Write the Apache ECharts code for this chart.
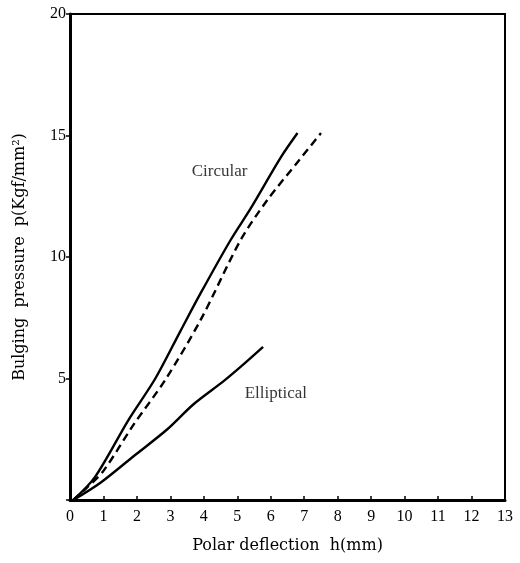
<!DOCTYPE html>
<html>
<head>
<meta charset="utf-8">
<script src="https://cdn.jsdelivr.net/npm/echarts@6/dist/echarts.min.js"></script>
<style>
  html, body { margin: 0; padding: 0; background: #fff; }
  #chart { width: 520px; height: 563px; }
</style>
</head>
<body>
<div id="chart"></div>
<script>
// data: [h (mm), p (Kgf/mm2)]
var circularSolid = [[0.1, 0], [0.75, 0.95], [1.75, 3.3], [2.55, 5.0], [3.3, 6.95], [3.9, 8.5],
    [4.8, 10.7], [5.4, 12.0], [6.3, 14.1], [6.8, 15.1]];
var circularDashed = [[0.1, 0], [0.5, 0.5], [1.0, 1.2], [1.9, 3.1], [2.85, 4.95], [3.9, 7.4],
    [5.1, 10.7], [5.9, 12.35], [6.8, 13.9], [7.5, 15.1]];
var elliptical = [[0.1, 0], [0.9, 0.7], [1.9, 1.8], [2.9, 2.9], [3.7, 3.95], [4.6, 4.9],
    [5.2, 5.6], [5.77, 6.3]];
var noteNames = ['Circular', 'Elliptical'];
var notePos = [[4.47, 13.5], [6.15, 4.4]];

var xMax = 13;
var yMax = 20;

var serif = '"Liberation Serif", serif';
var wideSerif = '"DejaVu Serif", serif';

var chart = echarts.init(document.getElementById('chart'));

var lineSeries = function (data, dash) {
    return {
        type: 'line',
        data: data,
        smooth: 0.3,
        symbol: 'none',
        silent: true,
        lineStyle: { color: '#000', width: 2.4, type: dash ? [8, 5] : 'solid' }
    };
};

chart.setOption({
    animation: false,
    grid: {
        left: 70, right: 15, top: 14, bottom: 63,
        show: true, borderColor: '#000', borderWidth: 2
    },
    xAxis: {
        type: 'value',
        min: 0, max: xMax, interval: 1,
        name: 'Polar deflection  h(mm)',
        nameLocation: 'middle',
        nameGap: 38,
        nameTextStyle: { fontFamily: wideSerif, fontSize: 16, color: '#000' },
        axisLine: { lineStyle: { color: '#000', width: 3 } },
        axisTick: { inside: true, length: 4, lineStyle: { color: '#000', width: 1.5 } },
        axisLabel: { fontFamily: serif, fontSize: 16, color: '#000', margin: 9 },
        splitLine: { show: false }
    },
    yAxis: {
        type: 'value',
        min: 0, max: yMax, interval: 5,
        name: 'Bulging  pressure  p(Kgf/mm²)',
        nameLocation: 'middle',
        nameGap: 42,
        nameTextStyle: { fontFamily: wideSerif, fontSize: 16, color: '#000' },
        axisLine: { lineStyle: { color: '#000', width: 3 } },
        axisTick: { length: 4, lineStyle: { color: '#000', width: 1.5 } },
        axisLabel: {
            fontFamily: serif, fontSize: 16, color: '#000', margin: 4,
            formatter: function (v) { return v === 0 ? '' : String(v); }
        },
        splitLine: { show: false }
    },
    series: [
        lineSeries(circularSolid, false),
        lineSeries(circularDashed, true),
        lineSeries(elliptical, false),
        {
            type: 'scatter',
            symbolSize: 0,
            silent: true,
            data: noteNames.map(function (n, i) { return { value: notePos[i], name: n }; }),
            label: {
                show: true,
                position: 'inside',
                formatter: '{b}',
                fontFamily: serif, fontSize: 17, color: '#000'
            }
        }
    ]
});
</script>
</body>
</html>
